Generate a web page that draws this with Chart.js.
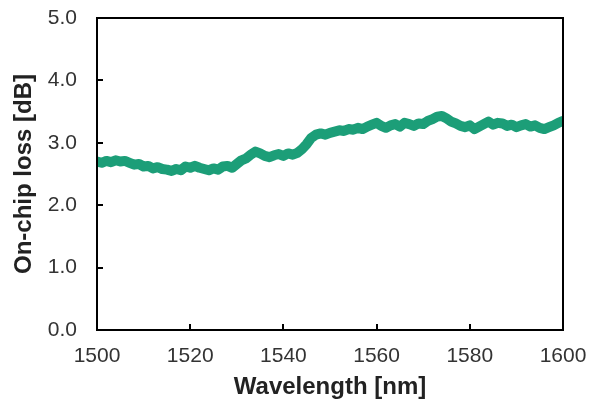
<!DOCTYPE html>
<html>
<head>
<meta charset="utf-8">
<script src="https://cdn.jsdelivr.net/npm/chart.js@4.4.1/dist/chart.umd.min.js"></script>
<style>
  html, body { margin: 0; padding: 0; background: #fff; }
  #wrap { width: 589px; height: 401px; position: relative; }
</style>
</head>
<body>
<div id="wrap"><canvas id="grafico"></canvas></div>
<script>
// comprimento de onda inicial e passo (nm)
const lambdaInicio = 1500;
const lambdaPasso = 1;

// perda on-chip [dB], 1 ponto por nm (1500..1600)
const perda = [
  2.70, 2.68, 2.71, 2.69, 2.72,
  2.70, 2.71, 2.68, 2.65, 2.66,
  2.62, 2.63, 2.59, 2.61, 2.58,
  2.57, 2.55, 2.58, 2.56, 2.62,
  2.60, 2.63, 2.60, 2.58, 2.56,
  2.59, 2.57, 2.62, 2.63, 2.60,
  2.66, 2.72, 2.75, 2.81, 2.86,
  2.83, 2.79, 2.77, 2.80, 2.82,
  2.79, 2.83, 2.81, 2.84, 2.90,
  2.98, 3.08, 3.13, 3.15, 3.13,
  3.16, 3.18, 3.20, 3.19, 3.22,
  3.21, 3.24, 3.22, 3.26, 3.29,
  3.32, 3.27, 3.24, 3.28, 3.30,
  3.26, 3.32, 3.30, 3.27, 3.31,
  3.30, 3.35, 3.38, 3.42, 3.43,
  3.39, 3.34, 3.31, 3.27, 3.25,
  3.28, 3.22, 3.26, 3.30, 3.34,
  3.29, 3.32, 3.31, 3.27, 3.29,
  3.25, 3.28, 3.30, 3.26, 3.28,
  3.24, 3.22, 3.25, 3.28, 3.32,
  3.35
];

const ticksX = [1500, 1520, 1540, 1560, 1580, 1600];
const ticksY = [0, 1, 2, 3, 4, 5];

const pontos = perda.map((v, i) => ({ x: lambdaInicio + i * lambdaPasso, y: v }));

// moldura e marcas para dentro
const moldura = {
  id: 'moldura',
  afterDraw(chart) {
    const { ctx, chartArea: a, scales: { x, y } } = chart;
    ctx.save();
    ctx.strokeStyle = '#000';
    ctx.lineWidth = 2;
    ctx.strokeRect(a.left, a.top, a.right - a.left, a.bottom - a.top);
    ctx.beginPath();
    ticksX.forEach(t => {
      const px = Math.round(x.getPixelForValue(t));
      ctx.moveTo(px, a.bottom);
      ctx.lineTo(px, a.bottom - 6);
    });
    ticksY.forEach(t => {
      const py = Math.round(y.getPixelForValue(t));
      ctx.moveTo(a.left, py);
      ctx.lineTo(a.left + 6, py);
    });
    ctx.stroke();
    ctx.restore();
  }
};

const fonteTick = { family: 'Liberation Sans, Arial, sans-serif', size: 21 };
const fonteTitulo = { family: 'Liberation Sans, Arial, sans-serif', size: 24, weight: 'bold', lineHeight: 1.1 };

new Chart(document.getElementById('grafico'), {
  type: 'line',
  data: {
    datasets: [{
      data: pontos,
      borderColor: '#1c9e78',
      borderWidth: 10,
      borderJoinStyle: 'round',
      borderCapStyle: 'round',
      pointRadius: 0,
      tension: 0,
      fill: false
    }]
  },
  options: {
    responsive: true,
    maintainAspectRatio: false,
    animation: false,
    layout: { padding: { top: 18, right: 26, left: 0, bottom: 0 } },
    plugins: { legend: { display: false }, tooltip: { enabled: false } },
    scales: {
      x: {
        type: 'linear',
        min: 1500,
        max: 1600,
        afterBuildTicks: s => { s.ticks = ticksX.map(v => ({ value: v })); },
        afterFit: s => { s.height = 71; s.paddingLeft = 0; s.paddingRight = 0; },
        grid: { display: false, drawTicks: false },
        border: { display: false },
        ticks: { color: '#333', font: fonteTick, padding: 14, maxRotation: 0, callback: v => String(v) },
        title: { display: true, text: 'Wavelength [nm]', color: '#222', font: fonteTitulo, padding: 0 }
      },
      y: {
        min: 0,
        max: 5,
        afterBuildTicks: s => { s.ticks = ticksY.map(v => ({ value: v })); },
        afterFit: s => { s.width = 97; s.paddingTop = 0; s.paddingBottom = 0; },
        grid: { display: false, drawTicks: false },
        border: { display: false },
        ticks: { color: '#333', font: fonteTick, padding: 20, callback: v => v.toFixed(1) },
        title: { display: true, text: 'On-chip loss [dB]', color: '#222', font: fonteTitulo, padding: { top: 11, bottom: 0 } }
      }
    }
  },
  plugins: [moldura]
});
</script>
</body>
</html>
